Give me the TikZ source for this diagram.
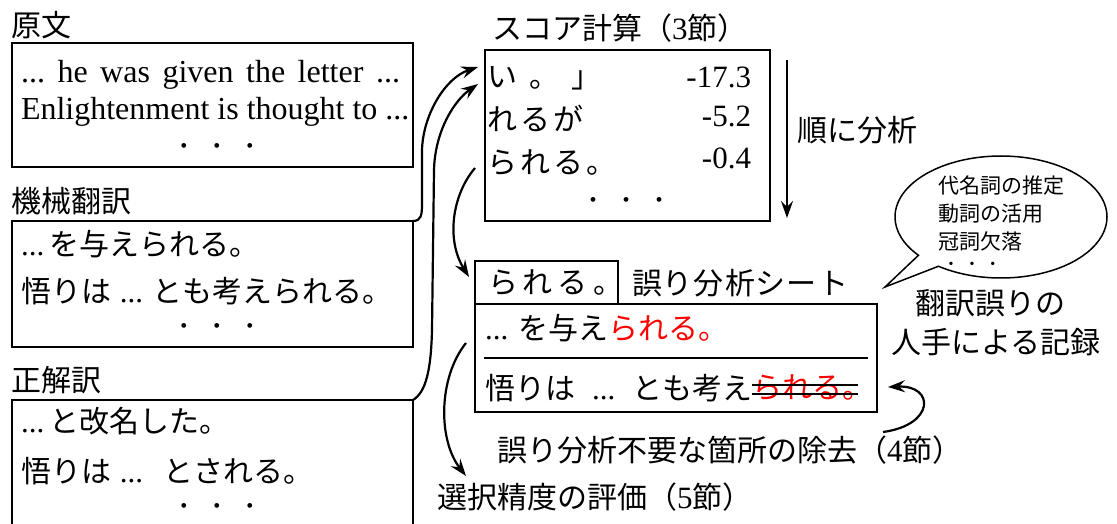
\documentclass[tikz,border=0pt]{standalone}
\usepackage{fontspec}
\setmainfont{Liberation Serif}
\newfontfamily\jpfont{Noto Sans CJK JP}
\usetikzlibrary{shapes.callouts,arrows.meta}
\newcommand\J[1]{{\jpfont\fontsize{30}{36}\selectfont #1}}
\newcommand\Js[1]{{\jpfont\fontsize{21}{26}\selectfont #1}}
\frenchspacing
\begin{document}
\begin{tikzpicture}[x=1pt,y=-1pt,
  every node/.style={inner sep=0pt,outer sep=0pt,font=\fontsize{31}{37}\selectfont},
  boxnode/.style={draw,line width=1.5pt,anchor=north west},
  conn/.style={line width=2.2pt,-{Stealth[length=17pt,width=12pt,inset=6pt]}},
  tx/.style={anchor=west},
  bl/.style={anchor=base west,font=\fontsize{32}{38}\selectfont},
  br/.style={anchor=base east},
  dotrow/.style={anchor=base,font=\fontsize{20}{24}\selectfont},
]
\useasboundingbox (0,0) rectangle (1117,524);

% left column
\node[tx] (l1) at (12,25) {\J{原文}};
\node[boxnode,minimum width=401pt,minimum height=124pt] (b1) at (12,43) {};
\node[bl] (b1a) at (21,83) {\makebox[379pt][s]{... he was given the letter ...}};
\node[bl] (b1b) at (21,120) {Enlightenment is thought to ...};
\node[dotrow] (b1d) at (217,153) {•\hspace{26pt}•\hspace{26pt}•};

\node[tx] (l2) at (12,201) {\J{機械翻訳}};
\node[boxnode,minimum width=401pt,minimum height=126pt] (b2) at (12,221) {};
\node[tx] (b2a) at (21,244) {...\,\J{を与えられる。}};
\node[tx] (b2b) at (21,291) {\J{悟りは}\hspace{9pt}...\hspace{9pt}\J{とも考えられる。}};
\node[dotrow] (b2d) at (217,332) {•\hspace{26pt}•\hspace{26pt}•};

\node[tx] (l3) at (12,380) {\J{正解訳}};
\node[boxnode,minimum width=401pt,minimum height=150pt] (b3) at (12,400) {};
\node[tx] (b3a) at (21,421) {...\,\J{と改名した。}};
\node[tx] (b3b) at (21,471) {\J{悟りは}\hspace{9pt}...\hspace{20pt}\J{とされる。}};
\node[dotrow] (b3d) at (217,512) {•\hspace{26pt}•\hspace{26pt}•};

% score box
\node[tx] (sl) at (492,28) {\J{スコア計算（}3\J{節）}};
\node[boxnode,minimum width=285pt,minimum height=171pt] (sc) at (485,50) {};
\node[tx] (s1) at (487,78) {\J{い\hspace{12pt}。\hspace{12pt}」}};
\node[tx] (s2) at (487,118) {\J{れ\hspace{3pt}る\hspace{3pt}が}};
\node[tx] (s3t) at (487,163) {\J{ら\hspace{3pt}れ\hspace{3pt}る\hspace{3pt}。}};
\node[br] (n1) at (751,88) {-17.3};
\node[br] (n2) at (751,127) {-5.2};
\node[br] (n3) at (751,169) {-0.4};
\node[dotrow] (sd) at (626,207) {•\hspace{26pt}•\hspace{26pt}•};

\coordinate (d1) at (787,60);
\coordinate (d2) at (787,218);
\draw[conn] (d1) -- (d2);
\node[tx] (ord) at (797,130) {\J{順に分析}};

% error analysis sheet
\node[boxnode,minimum width=143pt,minimum height=43pt] (sb) at (475,261) {};
\node[tx] (sbt) at (488,283) {\J{ら\hspace{5pt}れ\hspace{5pt}る\hspace{5pt}。}};
\node[tx] (sht) at (632,283) {\J{誤\hspace{1pt}り\hspace{1pt}分\hspace{1pt}析\hspace{1pt}シ\hspace{1pt}ー\hspace{1pt}ト}};
\node[boxnode,minimum width=402pt,minimum height=108pt] (mb) at (475,304) {};
\node[tx] (r1) at (485,328) {...\hspace{10pt}\J{を与え}\textcolor{red}{\J{られる。}}};
\draw[line width=1.5pt] (484,358) -- (868,358);
\node[tx] (r2a) at (485,388) {\J{悟りは}\hspace{17pt}...\hspace{17pt}\J{とも考え}};
\node[tx] (r2b) at (752,388) {\textcolor{red}{\J{られる。}}};
\draw[line width=1.2pt] (752,385) -- (858,385);
\draw[line width=1.2pt] (752,394) -- (858,394);

% callout
\node[ellipse callout,draw,line width=1.5pt,minimum width=212pt,minimum height=122pt,
      callout absolute pointer={(885,287)}] (bub) at (1001,217) {};
\node[tx] (c1) at (938,186) {\Js{代名詞の推定}};
\node[tx] (c2) at (938,214) {\Js{動詞の活用}};
\node[tx] (c3) at (938,241) {\Js{冠詞欠落}};
\node[dotrow,font=\fontsize{14}{16}\selectfont] (cd) at (972,268) {•\hspace{16pt}•\hspace{16pt}•};
\node (h1) at (990,303) {\J{翻訳誤りの}};
\node (h2) at (996,342) {\J{人手による記録}};

% bottom labels
\node[tx] (e4) at (497,450) {\J{誤り分析不要な箇所の除去（}4\J{節）}};
\node[tx] (e5) at (437,497) {\J{選択精度の評価（}5\J{節）}};

% connectors
\coordinate (t1) at (478,67);
\coordinate (t2) at (478,84);
\coordinate (s3) at (475,168);
\coordinate (t3) at (469,277);
\coordinate (s4) at (466,343);
\coordinate (t4) at (466,476);
\coordinate (s5) at (883,432);
\coordinate (t5) at (888,387);
\draw[conn] (b2.north east) .. controls (421,221) and (422,215) .. (422,205) -- (422,150) .. controls (423,115) and (445,78) .. (t1);
\draw[conn] (b3.north east) .. controls (426,392) and (431,370) .. (432,330) -- (434,170) .. controls (435,130) and (455,100) .. (t2);
\draw[conn] (s3) .. controls (452,195) and (446,240) .. (t3);
\draw[conn] (s4) .. controls (438,378) and (438,440) .. (t4);
\draw[conn] (s5) .. controls (935,425) and (935,385) .. (t5);
\end{tikzpicture}
\end{document}
